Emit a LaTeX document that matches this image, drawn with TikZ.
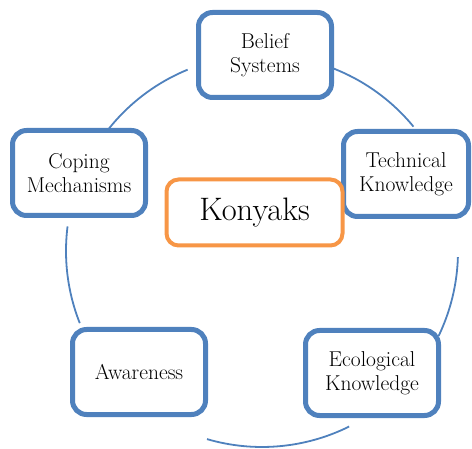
\documentclass[tikz,border=0pt]{standalone}
\definecolor{boxblue}{RGB}{79,129,189}
\definecolor{boxorange}{RGB}{247,150,70}
\tikzset{
  cyclebox/.style={draw=boxblue, line width=5pt, fill=white, rounded corners=14pt,
    minimum width=133pt, minimum height=85pt, align=center, inner sep=0pt,
    font=\fontsize{21.5}{23.5}\selectfont},
  centerbox/.style={draw=boxorange, line width=4pt, fill=white, rounded corners=12pt,
    minimum width=176pt, minimum height=66pt, inner sep=0pt,
    font=\fontsize{32.5}{36}\selectfont},
  cyclearc/.style={draw=boxblue, line width=1.8pt}
}
\begin{document}
\begin{tikzpicture}[x=1pt,y=1pt]
\useasboundingbox (0,0) rectangle (472,448);
\coordinate (C) at (262,197);
% arcs of the cycle
\draw[cyclearc] ([shift={(112.3:196pt)}]C) arc[start angle=112.3, end angle=141.8, radius=196pt];
\draw[cyclearc] ([shift={(172.8:196pt)}]C) arc[start angle=172.8, end angle=201.6, radius=196pt];
\draw[cyclearc] ([shift={(253.7:196pt)}]C) arc[start angle=253.7, end angle=296.4, radius=196pt];
\draw[cyclearc] ([shift={(334.3:196pt)}]C) arc[start angle=334.3, end angle=358.2, radius=196pt];
\draw[cyclearc] ([shift={(39.4:196pt)}]C) arc[start angle=39.4, end angle=68.9, radius=196pt];
% boxes
\node[cyclebox] (belief) at (265,393) {Belief\\Systems};
\node[cyclebox, minimum width=125pt] (tech) at (406,274) {Technical\\Knowledge};
\node[cyclebox] (coping) at (79,275) {Coping\\Mechanisms};
\node[cyclebox] (aware) at (139,76) {Awareness};
\node[cyclebox] (eco) at (372,75) {Ecological\\Knowledge};
\node[centerbox] (kon) at (254.5,235.5) {Konyaks};
\end{tikzpicture}
\end{document}
